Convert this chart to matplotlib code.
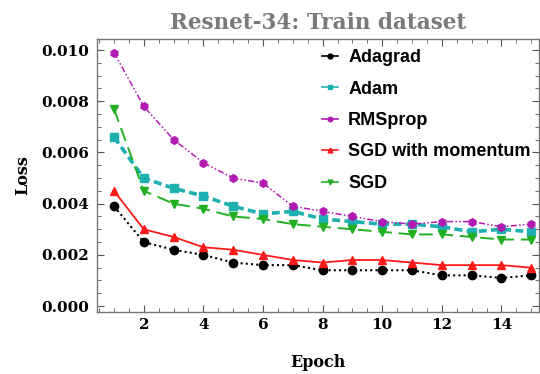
import matplotlib
matplotlib.use("Agg")
import matplotlib.pyplot as plt
from matplotlib.lines import Line2D
from matplotlib.ticker import MultipleLocator, FormatStrFormatter

epochs = list(range(1, 16))
adagrad = [0.0039, 0.0025, 0.0022, 0.0020, 0.0017, 0.0016, 0.0016, 0.0014,
           0.0014, 0.0014, 0.0014, 0.0012, 0.0012, 0.0011, 0.0012]
adam = [0.0066, 0.0050, 0.0046, 0.0043, 0.0039, 0.0036, 0.0037, 0.0034,
        0.0033, 0.0032, 0.0032, 0.0031, 0.0029, 0.0030, 0.0029]
rmsprop = [0.0099, 0.0078, 0.0065, 0.0056, 0.0050, 0.0048, 0.0039, 0.0037,
           0.0035, 0.0033, 0.0032, 0.0033, 0.0033, 0.0031, 0.0032]
sgd_momentum = [0.0045, 0.0030, 0.0027, 0.0023, 0.0022, 0.0020, 0.0018, 0.0017,
                0.0018, 0.0018, 0.0017, 0.0016, 0.0016, 0.0016, 0.0015]
sgd = [0.0077, 0.0045, 0.0040, 0.0038, 0.0035, 0.0034, 0.0032, 0.0031,
       0.0030, 0.0029, 0.0028, 0.0028, 0.0027, 0.0026, 0.0026]
labels = ["Adagrad", "Adam", "RMSprop", "SGD with momentum", "SGD"]

c_black = "#000000"
c_cyan = "#1eb0b0"
c_mag = "#b21ab2"
c_red = "#ff1a1a"
c_green = "#22b022"

fig = plt.figure(figsize=(5.4, 3.74), dpi=100)
ax = fig.add_axes([0.1796, 0.1658, 0.8185, 0.7299])

ax.plot(epochs, adagrad, color=c_black, linestyle=(0, (1, 1.5)), lw=1.5,
        marker="o", ms=6)
ax.plot(epochs, adam, color=c_cyan, linestyle=(0, (2.2, 1.2)), lw=2.6,
        marker="s", ms=6)
ax.plot(epochs, rmsprop, color=c_mag, linestyle=(0, (4, 1.5, 1, 1.5, 1, 1.5)),
        lw=1.1, marker="h", ms=5.5)
ax.plot(epochs, sgd_momentum, color=c_red, linestyle="-", lw=1.3,
        marker="^", ms=5.5)
ax.plot(epochs, sgd, color=c_green, linestyle=(0, (7, 3.5)), lw=1.4,
        marker="v", ms=5.5)

ax.set_xlim(0.43, 15.26)
ax.set_ylim(-0.00023, 0.01043)
ax.xaxis.set_major_locator(MultipleLocator(2))
ax.xaxis.set_minor_locator(MultipleLocator(0.5))
ax.yaxis.set_major_locator(MultipleLocator(0.002))
ax.yaxis.set_minor_locator(MultipleLocator(0.0005))
ax.yaxis.set_major_formatter(FormatStrFormatter("%.3f"))

for s in ax.spines.values():
    s.set_color("#777777")
    s.set_linewidth(1.0)
ax.tick_params(which="both", direction="in", top=True, right=True,
               color="#555555")
ax.tick_params(which="major", length=5, width=0.8)
ax.tick_params(which="minor", length=3, width=0.6)
ax.tick_params(axis="x", which="major", pad=4)
ax.tick_params(axis="y", which="major", pad=6)

serif = "DejaVu Serif"
for t in ax.get_xticklabels() + ax.get_yticklabels():
    t.set_fontfamily(serif)
    t.set_fontweight("bold")
    t.set_fontsize(11)

ax.set_xlabel("Epoch", fontfamily=serif, fontweight="bold", fontsize=11.5,
              labelpad=16)
ax.set_ylabel("Loss", fontfamily=serif, fontweight="bold", fontsize=11.5,
              labelpad=7)
ax.set_title("Resnet-34: Train dataset", fontfamily=serif, fontweight="bold",
             fontsize=15.5, color="#7a7a7a", pad=7)

handles = [
    Line2D([], [], color=c_black, lw=1.2, marker="o", ms=3.5),
    Line2D([], [], color=c_cyan, lw=1.2, marker="s", ms=3.5),
    Line2D([], [], color=c_mag, lw=1.2, marker="h", ms=3.5),
    Line2D([], [], color=c_red, lw=1.2, marker="^", ms=3.5),
    Line2D([], [], color=c_green, lw=1.2, marker="v", ms=3.5),
]
ax.legend(handles, labels, loc="upper left", bbox_to_anchor=(0.509, 0.963),
          frameon=False, handlelength=0.9, handletextpad=0.55,
          labelspacing=0.8, borderaxespad=0, borderpad=0,
          prop={"family": "Liberation Sans", "weight": "bold", "size": 13})

fig.savefig("out.png", dpi=100)
